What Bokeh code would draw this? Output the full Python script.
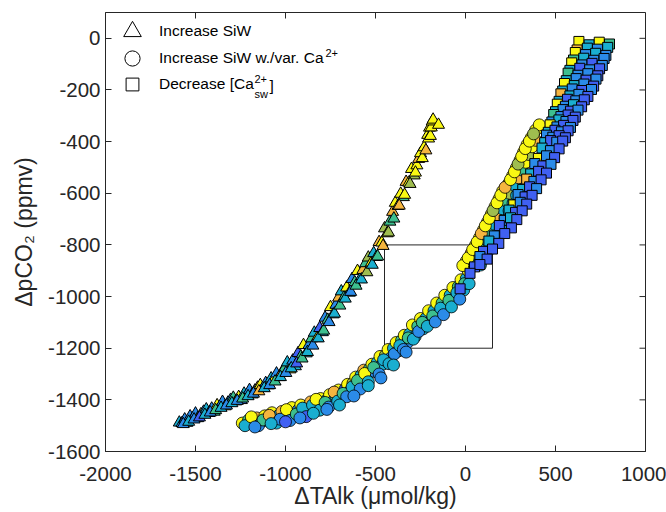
from math import pi
from bokeh.plotting import figure
from bokeh.models import (ColumnDataSource, LinearColorMapper, Label,
                          Legend, LegendItem, FixedTicker)
from bokeh.transform import transform
from bokeh.embed import file_html
from bokeh.resources import INLINE

# ---------------- axes / ticks ----------------
x_ticks = [-2000, -1500, -1000, -500, 0, 500, 1000]
x_tick_labels = ["-2000", "-1500", "-1000", "-500", "0", "500", "1000"]
y_ticks = [-1600, -1400, -1200, -1000, -800, -600, -400, -200, 0]
y_tick_labels = ["-1600", "-1400", "-1200", "-1000", "-800", "-600", "-400", "-200", "0"]
x_title = "\u0394TAlk (\u03bcmol/kg)"
y_title = "\u0394pCO\u2082 (ppmv)"

# zoom box drawn on the chart
box_x = [-450, 150]
box_y = [-1200, -800]

# colour values are 0..1 on a parula-like scale
# ---------------- Increase SiW (triangles) ----------------
tri_x = [-1590, -1575, -1560, -1548, -1530, -1515, -1500, -1488, -1470, -1455,
         -1440, -1425, -1410, -1396, -1380, -1365, -1350, -1335, -1320, -1305,
         -1290, -1276, -1260, -1245, -1230, -1215, -1200, -1185, -1170, -1155,
         -1140, -1125, -1110, -1095, -1080, -1065, -1050, -1035, -1020, -1005,
         -990, -975, -960, -945, -930, -915, -900, -885, -870, -855,
         -840, -825, -810, -795, -780, -765, -750, -735, -720, -705,
         -690, -675, -660, -645, -630, -615, -600, -585, -570, -555,
         -540, -525, -510, -495, -480, -465, -450, -435, -420, -405,
         -390, -375, -360, -345, -330, -315, -300, -285, -270, -260,
         -250, -240, -230, -220, -210, -205, -200, -195, -190, -185,
         -180, -150,
         -1568, -1538, -1508, -1478, -1448, -1418, -1388, -1358, -1328, -1298,
         -1268, -1238, -1208, -1178, -1148, -1118, -1088, -1058, -1028, -998,
         -968, -938, -908, -878, -848, -818, -788, -758, -728, -698,
         -668, -638, -608, -578, -548, -518, -488, -458, -428, -398,
         -368, -338, -308, -278]
tri_y = [-1488, -1490, -1476, -1489, -1464, -1472, -1453, -1471, -1456, -1446,
         -1437, -1451, -1434, -1446, -1421, -1428, -1408, -1425, -1411, -1400,
         -1392, -1406, -1389, -1401, -1376, -1383, -1362, -1379, -1364, -1353,
         -1343, -1354, -1335, -1344, -1317, -1322, -1298, -1312, -1293, -1278,
         -1255, -1282, -1248, -1270, -1219, -1232, -1188, -1220, -1188, -1162,
         -1140, -1161, -1122, -1138, -1082, -1090, -1041, -1069, -1032, -1004,
         -980, -1003, -965, -985, -932, -945, -901, -931, -897, -871,
         -849, -871, -832, -847, -789, -791, -736, -755, -710, -672,
         -637, -649, -602, -615, -556, -559, -506, -531, -492, -467,
         -445, -464, -422, -434, -374, -388, -346, -378, -345, -322,
         -315, -335,
         -1494, -1485, -1476, -1468, -1458, -1449, -1440, -1431, -1422, -1413,
         -1404, -1395, -1386, -1376, -1367, -1355, -1343, -1329, -1312, -1296,
         -1278, -1259, -1240, -1215, -1190, -1162, -1132, -1099, -1066, -1035,
         -1008, -982, -958, -934, -906, -877, -845, -804, -752, -698,
         -648, -606, -564, -520]
tri_c = [.36, .21, .21, .36, .21, .07, .21, .36, .93, .21,
         .36, .07, .21, .50, .93, .36, .21, .93, .36, .21,
         .50, .36, .93, .21, .36, .93, .21, .50, .36, .79,
         .93, .36, .21, .50, .36, .93, .21, .36, .79, .50,
         .36, .93, .21, .36, .07, .50, .93, .36, .21, .50,
         .36, .93, .07, .36, .21, .50, .93, .36, .21, .79,
         .36, .50, .93, .36, .21, .50, .93, .36, .79, .50,
         .64, .93, .36, .50, .79, .93, .64, .93, .50, .79,
         .93, .64, .93, .50, .79, .93, .93, .64, .93, .79,
         .93, .93, .93, .79, .93, .93, .93, .93, .93, .93,
         .93, .93,
         .21, .36, .21, .07, .36, .21, .50, .36, .21, .36,
         .21, .50, .36, .21, .79, .36, .21, .50, .36, .21,
         .36, .07, .50, .36, .21, .36, .50, .21, .36, .50,
         .36, .21, .50, .36, .64, .36, .50, .79, .64, .50,
         .79, .93, .64, .93]

# ---------------- Increase SiW w./var. Ca2+ (circles) ----------------
cir_x = [-1240, -1205, -1180, -1160, -1140, -1115, -1100, -1075, -1060, -1040,
         -1020, -1005, -985, -965, -950, -930, -915, -895, -875, -860,
         -840, -820, -805, -790, -770, -755, -740, -720, -705, -690,
         -670, -655, -640, -625, -610, -595, -580, -565, -550, -535,
         -520, -505, -490, -475, -460, -445, -430, -415, -400, -385,
         -370, -355, -340, -325, -310, -295, -280, -265, -250, -235,
         -220, -205, -190, -175, -160, -145, -130, -115, -100, -85,
         -70, -55, -40, -25, -10, 5, 15,
         -1225, -1190, -1150, -1125, -1090, -1050, -1030, -995, -975, -940,
         -905, -885, -850, -830, -810, -780, -760, -730, -710, -680,
         -660, -630, -600, -585, -560, -540, -510, -480, -455, -425,
         -395, -365, -345, -318, -290, -260, -240, -212, -182, -168,
         -138, -122, -92, -78, -48, -32, -5, 20,
         -1170, -1080, -1000, -920, -845, -770, -700, -620, -540, -470, -400, -330,
         5, 45, 83, 32, 72, 110, 55, 95, 133, 78, 118, 156,
         100, 140, 178, 122, 162, 200, 143, 183, 221, 164, 204, 242,
         186, 226, 264, 206, 246, 284, 240, 275, 262, 296,
         282, 315, 303, 335, 322, 352, 342, 370, 365, 390, 390, 410,
         -15, 15, 40, 65, 88, 110, 132, 153, 175, 196, 220, 250,
         272, 292, 312, 332, 355, 378]
cir_y = [-1490, -1478, -1492, -1470, -1488, -1462, -1480, -1450, -1478, -1462,
         -1445, -1470, -1452, -1430, -1462, -1440, -1420, -1448, -1428, -1408,
         -1436, -1415, -1395, -1425, -1400, -1380, -1408, -1385, -1362, -1392,
         -1360, -1340, -1365, -1335, -1312, -1340, -1305, -1285, -1312, -1282,
         -1262, -1290, -1255, -1232, -1262, -1228, -1205, -1238, -1200, -1178,
         -1210, -1170, -1150, -1180, -1145, -1110, -1155, -1115, -1085, -1125,
         -1085, -1055, -1095, -1055, -1025, -1065, -1025, -995, -1035, -995,
         -965, -1005, -962, -935, -975, -930, -900,
         -1500, -1466, -1500, -1478, -1460, -1490, -1475, -1438, -1480, -1455,
         -1432, -1465, -1420, -1398, -1440, -1410, -1428, -1370, -1405, -1375,
         -1388, -1350, -1325, -1358, -1298, -1330, -1275, -1300, -1245, -1260,
         -1222, -1190, -1205, -1160, -1165, -1135, -1100, -1115, -1075, -1098,
         -1045, -1070, -1015, -1040, -985, -1010, -950, -950,
         -1505, -1492, -1485, -1470, -1452, -1437, -1420, -1385, -1345, -1315, -1265, -1215,
         -862, -870, -878, -832, -840, -848, -802, -810, -818, -772, -780, -788,
         -742, -750, -758, -712, -720, -728, -682, -690, -698, -652, -660, -668,
         -622, -630, -638, -592, -600, -608, -562, -570, -532, -540,
         -502, -510, -472, -480, -442, -450, -412, -420, -385, -395, -355, -335,
         -880, -850, -818, -788, -756, -726, -697, -667, -637, -607, -577, -547,
         -517, -487, -457, -427, -398, -370]
cir_c = [.93, .50, .21, .79, .36, .93, .21, .93, .07, .36,
         .79, .21, .50, .93, .36, .21, .93, .36, .50, .79,
         .21, .36, .93, .21, .36, .93, .21, .50, .93, .36,
         .07, .93, .36, .64, .93, .21, .36, .79, .36, .50,
         .93, .21, .36, .93, .36, .64, .93, .21, .36, .93,
         .36, .50, .93, .21, .36, .93, .36, .50, .93, .36,
         .36, .93, .21, .36, .93, .36, .50, .93, .36, .36,
         .93, .36, .50, .93, .36, .36, .93,
         .36, .93, .21, .50, .79, .36, .21, .93, .21, .50,
         .36, .07, .36, .93, .36, .50, .21, .79, .36, .50,
         .21, .36, .50, .21, .93, .36, .50, .21, .36, .36,
         .21, .36, .21, .50, .36, .21, .50, .36, .50, .21,
         .36, .21, .50, .36, .36, .21, .50, .36,
         .21, .36, .07, .21, .36, .21, .36, .21, .36, .21, .36, .21,
         .93, .50, .36, .79, .36, .36, .93, .50, .36, .93, .36, .21,
         .93, .50, .36, .64, .36, .36, .93, .79, .50, .93, .36, .36,
         .93, .50, .36, .93, .64, .36, .93, .36, .93, .79,
         .93, .50, .93, .93, .93, .64, .93, .93, .93, .79, .93, .93,
         .93, .93, .93, .93, .79, .93, .93, .64, .93, .93, .79, .93,
         .93, .64, .93, .93, .93, .64]

# ---------------- Decrease [Ca2+sw] (squares) ----------------
sq_x = [630, 687, 743, 800, 620, 677, 733, 790, 610, 667, 723, 780,
        600, 657, 713, 770, 590, 647, 703, 760, 580, 635, 690, 745,
        570, 625, 680, 735, 560, 615, 670, 725, 550, 604, 658, 712,
        540, 593, 647, 700, 530, 580, 630, 680, 520, 567, 613, 660,
        510, 555, 600, 645, 500, 542, 583, 625, 490, 530, 570, 610,
        480, 519, 558, 597, 470, 508, 545, 583, 460, 497, 533, 570,
        450, 485, 520, 555, 440, 473, 507, 540,
        425, 472, 520, 405, 450, 495, 385, 430, 475, 362, 406, 450,
        340, 380, 420, 318, 356, 395, 292, 331, 370, 268, 304, 340,
        242, 278, 315, 215, 250, 285,
        188, 255, 160, 218, 130, 185, 100, 150, 80, 120, 50, 80, 25, -30]
sq_y = [-12, -25, -15, -22, -45, -38, -42, -35, -55, -63, -58, -66,
        -84, -77, -85, -78, -95, -103, -97, -105, -124, -116, -122, -118,
        -135, -143, -137, -145, -164, -156, -162, -158, -175, -183, -177, -185,
        -204, -196, -202, -198, -215, -223, -217, -225, -244, -236, -242, -238,
        -255, -263, -257, -265, -284, -276, -282, -278, -295, -303, -297, -305,
        -324, -316, -322, -318, -335, -343, -337, -345, -364, -356, -362, -358,
        -375, -383, -377, -385, -404, -396, -402, -398,
        -425, -435, -428, -465, -455, -462, -485, -494, -488, -525, -515, -522,
        -545, -554, -548, -585, -575, -582, -605, -614, -608, -645, -635, -642,
        -665, -674, -668, -705, -695, -702,
        -725, -734, -765, -756, -785, -794, -825, -816, -845, -855, -885, -876, -910, -970]
sq_c = [.93, .36, .93, .50, .79, .36, .21, .36, .93, .21, .36, .21,
        .50, .36, .21, .21, .93, .21, .07, .21, .36, .07, .21, .07,
        .50, .21, .21, .07, .36, .21, .07, .21, .93, .36, .21, .07,
        .36, .21, .07, .21, .79, .36, .21, .07, .36, .07, .21, .07,
        .93, .21, .36, .07, .36, .21, .07, .21, .50, .21, .07, .07,
        .21, .36, .21, .07, .93, .21, .07, .21, .36, .07, .21, .07,
        .21, .21, .07, .07, .36, .07, .21, .07,
        .36, .21, .07, .93, .21, .07, .21, .07, .21, .36, .07, .07,
        .79, .21, .07, .36, .07, .21, .21, .07, .07, .93, .21, .07,
        .36, .07, .07, .21, .36, .07,
        .07, .07, .21, .07, .36, .07, .07, .07, .21, .07, .07, .07, .07, .07]

series_names = ["Increase SiW", "Increase SiW w./var. Ca", "Decrease [Ca"]

# ---------------- styling ----------------
FONT = "Liberation Sans"
AX = "#262626"
palette = ["#4060F2", "#2B8BE8", "#1AAED0", "#3DBF8F", "#9FBD4F", "#F5B53F", "#F9F813"]
mapper = LinearColorMapper(palette=palette, low=0, high=1)

p = figure(width=666, height=512, x_range=(-2000, 1000), y_range=(-1600, 100),
           output_backend="svg", toolbar_location=None,
           min_border_left=105, min_border_right=21, min_border_top=12, min_border_bottom=61)
p.grid.visible = False
p.outline_line_color = AX
p.outline_line_width = 1
p.background_fill_color = "white"
p.border_fill_color = "white"

xa = p.xaxis[0]
ya = p.yaxis[0]
xa.ticker = FixedTicker(ticks=x_ticks)
ya.ticker = FixedTicker(ticks=y_ticks)
xa.major_label_overrides = {t: l for t, l in zip(x_ticks, x_tick_labels)}
ya.major_label_overrides = {t: l for t, l in zip(y_ticks, y_tick_labels)}
xa.axis_label = x_title
ya.axis_label = y_title
for ax in (xa, ya):
    ax.axis_line_color = AX
    ax.major_tick_line_color = AX
    ax.major_tick_in = 6
    ax.major_tick_out = 0
    ax.minor_tick_line_color = None
    ax.major_label_text_font = FONT
    ax.major_label_text_font_size = "20.5px"
    ax.major_label_text_color = AX
    ax.axis_label_text_font = FONT
    ax.axis_label_text_font_size = "23px"
    ax.axis_label_text_font_style = "normal"
    ax.axis_label_text_color = AX
xa.major_label_standoff = 15
xa.axis_label_standoff = -1
ya.major_label_standoff = 5
ya.axis_label_standoff = 8

# box-style inward ticks on top and right edges
p.ray(x=x_ticks, y=[100] * len(x_ticks), length=6, length_units="screen",
      angle=-pi / 2, line_color=AX, line_width=1)
p.ray(x=[1000] * len(y_ticks), y=y_ticks, length=6, length_units="screen",
      angle=pi, line_color=AX, line_width=1)

# zoom rectangle
p.quad(left=[box_x[0]], right=[box_x[1]], bottom=[box_y[0]], top=[box_y[1]],
       fill_color=None, line_color=AX, line_width=1)

src_t = ColumnDataSource(dict(x=tri_x, y=tri_y, c=tri_c))
src_c = ColumnDataSource(dict(x=cir_x, y=cir_y, c=cir_c))
src_s = ColumnDataSource(dict(x=sq_x, y=sq_y, c=sq_c))

p.scatter(x="x", y="y", source=src_t, marker="triangle", size=12,
          fill_color=transform("c", mapper), line_color="black", line_width=1)
p.scatter(x="x", y="y", source=src_c, marker="circle", size=12,
          fill_color=transform("c", mapper), line_color="black", line_width=0.8)
p.scatter(x="x", y="y", source=src_s, marker="square", size=10,
          fill_color=transform("c", mapper), line_color="black", line_width=1)

# ---------------- legend ----------------
leg_src = ColumnDataSource(dict(x=[float("nan")], y=[float("nan")]))
leg_specs = [("triangle", 44, (5, 398), 5),
             ("circle", 38, (8, 374.5), 8),
             ("square", 32, (11, 351), 11)]
for name, (marker, g, loc, st) in zip(series_names, leg_specs):
    r = p.scatter(x="x", y="y", source=leg_src, marker=marker, fill_color="white",
                  line_color="black", line_width=1)
    lg = Legend(items=[LegendItem(label=name, renderers=[r])], location=loc,
                glyph_width=g, glyph_height=g, padding=0, margin=0, spacing=0,
                label_standoff=st, label_text_font=FONT, label_text_font_size="15.5px",
                label_text_color="black", border_line_color=None,
                background_fill_alpha=0)
    p.add_layout(lg)

def lab(x, y, text, size):
    p.add_layout(Label(x=x, y=y, x_units="screen", y_units="screen", text=text,
                       text_font=FONT, text_font_size=size, text_color="black",
                       text_baseline="middle", text_align="left"))

lab(220, 399, "2+", "11px")
lab(149, 373, "2+", "11px")
lab(149, 358, "sw", "11px")
lab(164, 366, "]", "15.5px")

open("out.html", "w").write(file_html(p, INLINE))
